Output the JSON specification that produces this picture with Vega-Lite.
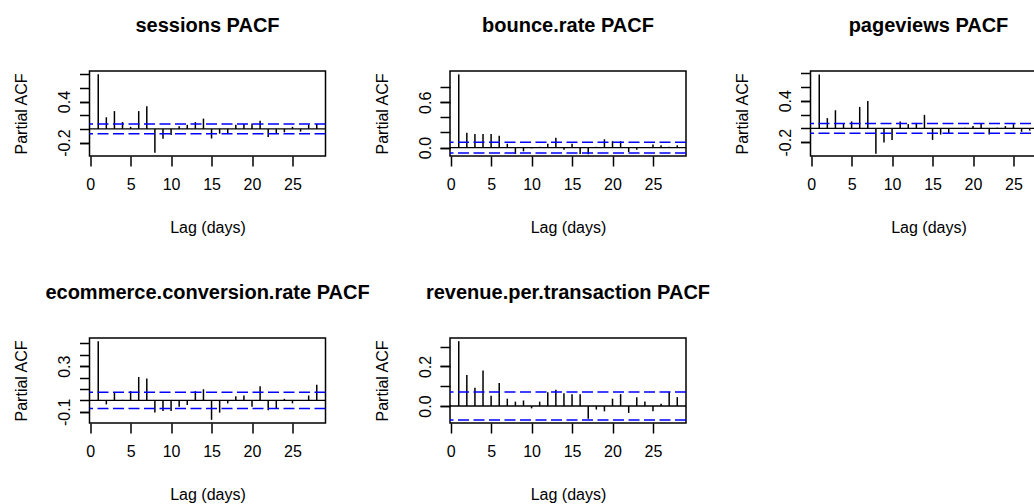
{
  "$schema": "https://vega.github.io/schema/vega-lite/v6.json",
  "background": "white",
  "autosize": {"type": "pad"},
  "padding": {"left": 12.5, "top": 15, "right": 0, "bottom": 0},
  "datasets": {
    "pacf": [
      {"series": "sessions", "lag": 1, "pacf": 0.80}, {"series": "sessions", "lag": 2, "pacf": 0.17}, {"series": "sessions", "lag": 3, "pacf": 0.26}, {"series": "sessions", "lag": 4, "pacf": 0.10},
      {"series": "sessions", "lag": 5, "pacf": 0.03}, {"series": "sessions", "lag": 6, "pacf": 0.26}, {"series": "sessions", "lag": 7, "pacf": 0.33}, {"series": "sessions", "lag": 8, "pacf": -0.35},
      {"series": "sessions", "lag": 9, "pacf": -0.145}, {"series": "sessions", "lag": 10, "pacf": -0.09}, {"series": "sessions", "lag": 11, "pacf": 0.04}, {"series": "sessions", "lag": 12, "pacf": 0.06},
      {"series": "sessions", "lag": 13, "pacf": 0.10}, {"series": "sessions", "lag": 14, "pacf": 0.15}, {"series": "sessions", "lag": 15, "pacf": -0.14}, {"series": "sessions", "lag": 16, "pacf": -0.07},
      {"series": "sessions", "lag": 17, "pacf": -0.06}, {"series": "sessions", "lag": 18, "pacf": 0.06}, {"series": "sessions", "lag": 19, "pacf": 0.07}, {"series": "sessions", "lag": 20, "pacf": 0.08},
      {"series": "sessions", "lag": 21, "pacf": 0.12}, {"series": "sessions", "lag": 22, "pacf": -0.12}, {"series": "sessions", "lag": 23, "pacf": -0.06}, {"series": "sessions", "lag": 24, "pacf": -0.05},
      {"series": "sessions", "lag": 25, "pacf": 0.03}, {"series": "sessions", "lag": 26, "pacf": -0.04}, {"series": "sessions", "lag": 27, "pacf": 0.06}, {"series": "sessions", "lag": 28, "pacf": 0.07},

      {"series": "bounce", "lag": 1, "pacf": 0.97}, {"series": "bounce", "lag": 2, "pacf": 0.196}, {"series": "bounce", "lag": 3, "pacf": 0.18}, {"series": "bounce", "lag": 4, "pacf": 0.18},
      {"series": "bounce", "lag": 5, "pacf": 0.18}, {"series": "bounce", "lag": 6, "pacf": 0.155}, {"series": "bounce", "lag": 7, "pacf": 0.05}, {"series": "bounce", "lag": 8, "pacf": -0.085},
      {"series": "bounce", "lag": 9, "pacf": -0.05}, {"series": "bounce", "lag": 10, "pacf": -0.01}, {"series": "bounce", "lag": 11, "pacf": 0.01}, {"series": "bounce", "lag": 12, "pacf": 0.05},
      {"series": "bounce", "lag": 13, "pacf": 0.13}, {"series": "bounce", "lag": 14, "pacf": -0.03}, {"series": "bounce", "lag": 15, "pacf": 0.05}, {"series": "bounce", "lag": 16, "pacf": -0.085},
      {"series": "bounce", "lag": 17, "pacf": -0.09}, {"series": "bounce", "lag": 18, "pacf": 0.01}, {"series": "bounce", "lag": 19, "pacf": 0.11}, {"series": "bounce", "lag": 20, "pacf": 0.085},
      {"series": "bounce", "lag": 21, "pacf": 0.085}, {"series": "bounce", "lag": 22, "pacf": -0.06}, {"series": "bounce", "lag": 23, "pacf": -0.03}, {"series": "bounce", "lag": 24, "pacf": 0.004},
      {"series": "bounce", "lag": 25, "pacf": 0.04}, {"series": "bounce", "lag": 26, "pacf": 0.03}, {"series": "bounce", "lag": 27, "pacf": 0.01}, {"series": "bounce", "lag": 28, "pacf": 0.03},

      {"series": "pageviews", "lag": 1, "pacf": 0.78}, {"series": "pageviews", "lag": 2, "pacf": 0.148}, {"series": "pageviews", "lag": 3, "pacf": 0.262}, {"series": "pageviews", "lag": 4, "pacf": 0.07},
      {"series": "pageviews", "lag": 5, "pacf": 0.10}, {"series": "pageviews", "lag": 6, "pacf": 0.31}, {"series": "pageviews", "lag": 7, "pacf": 0.395}, {"series": "pageviews", "lag": 8, "pacf": -0.367},
      {"series": "pageviews", "lag": 9, "pacf": -0.205}, {"series": "pageviews", "lag": 10, "pacf": -0.167}, {"series": "pageviews", "lag": 11, "pacf": 0.10}, {"series": "pageviews", "lag": 12, "pacf": 0.062},
      {"series": "pageviews", "lag": 13, "pacf": 0.08}, {"series": "pageviews", "lag": 14, "pacf": 0.195}, {"series": "pageviews", "lag": 15, "pacf": -0.167}, {"series": "pageviews", "lag": 16, "pacf": -0.09},
      {"series": "pageviews", "lag": 17, "pacf": -0.08}, {"series": "pageviews", "lag": 18, "pacf": 0.004}, {"series": "pageviews", "lag": 19, "pacf": 0.01}, {"series": "pageviews", "lag": 20, "pacf": 0.033},
      {"series": "pageviews", "lag": 21, "pacf": 0.062}, {"series": "pageviews", "lag": 22, "pacf": -0.09}, {"series": "pageviews", "lag": 23, "pacf": 0.01}, {"series": "pageviews", "lag": 24, "pacf": 0.033},
      {"series": "pageviews", "lag": 25, "pacf": 0.062}, {"series": "pageviews", "lag": 26, "pacf": -0.05}, {"series": "pageviews", "lag": 27, "pacf": -0.033}, {"series": "pageviews", "lag": 28, "pacf": 0.05},

      {"series": "ecommerce", "lag": 1, "pacf": 0.519}, {"series": "ecommerce", "lag": 2, "pacf": -0.035}, {"series": "ecommerce", "lag": 3, "pacf": 0.066}, {"series": "ecommerce", "lag": 4, "pacf": 0.005},
      {"series": "ecommerce", "lag": 5, "pacf": 0.081}, {"series": "ecommerce", "lag": 6, "pacf": 0.205}, {"series": "ecommerce", "lag": 7, "pacf": 0.193}, {"series": "ecommerce", "lag": 8, "pacf": -0.107},
      {"series": "ecommerce", "lag": 9, "pacf": -0.092}, {"series": "ecommerce", "lag": 10, "pacf": -0.092}, {"series": "ecommerce", "lag": 11, "pacf": -0.055}, {"series": "ecommerce", "lag": 12, "pacf": -0.04},
      {"series": "ecommerce", "lag": 13, "pacf": 0.081}, {"series": "ecommerce", "lag": 14, "pacf": 0.098}, {"series": "ecommerce", "lag": 15, "pacf": -0.17}, {"series": "ecommerce", "lag": 16, "pacf": -0.107},
      {"series": "ecommerce", "lag": 17, "pacf": -0.026}, {"series": "ecommerce", "lag": 18, "pacf": 0.037}, {"series": "ecommerce", "lag": 19, "pacf": 0.043}, {"series": "ecommerce", "lag": 20, "pacf": -0.055},
      {"series": "ecommerce", "lag": 21, "pacf": 0.124}, {"series": "ecommerce", "lag": 22, "pacf": -0.086}, {"series": "ecommerce", "lag": 23, "pacf": -0.07}, {"series": "ecommerce", "lag": 24, "pacf": 0.014},
      {"series": "ecommerce", "lag": 25, "pacf": -0.026}, {"series": "ecommerce", "lag": 26, "pacf": 0.003}, {"series": "ecommerce", "lag": 27, "pacf": 0.043}, {"series": "ecommerce", "lag": 28, "pacf": 0.138},

      {"series": "revenue", "lag": 1, "pacf": 0.328}, {"series": "revenue", "lag": 2, "pacf": 0.157}, {"series": "revenue", "lag": 3, "pacf": 0.092}, {"series": "revenue", "lag": 4, "pacf": 0.179},
      {"series": "revenue", "lag": 5, "pacf": 0.052}, {"series": "revenue", "lag": 6, "pacf": 0.116}, {"series": "revenue", "lag": 7, "pacf": 0.037}, {"series": "revenue", "lag": 8, "pacf": 0.022},
      {"series": "revenue", "lag": 9, "pacf": 0.028}, {"series": "revenue", "lag": 10, "pacf": -0.012}, {"series": "revenue", "lag": 11, "pacf": 0.022}, {"series": "revenue", "lag": 12, "pacf": 0.069},
      {"series": "revenue", "lag": 13, "pacf": 0.082}, {"series": "revenue", "lag": 14, "pacf": 0.065}, {"series": "revenue", "lag": 15, "pacf": 0.06}, {"series": "revenue", "lag": 16, "pacf": 0.06},
      {"series": "revenue", "lag": 17, "pacf": -0.065}, {"series": "revenue", "lag": 18, "pacf": -0.018}, {"series": "revenue", "lag": 19, "pacf": -0.027}, {"series": "revenue", "lag": 20, "pacf": 0.037},
      {"series": "revenue", "lag": 21, "pacf": 0.06}, {"series": "revenue", "lag": 22, "pacf": -0.035}, {"series": "revenue", "lag": 23, "pacf": 0.044}, {"series": "revenue", "lag": 24, "pacf": 0.023},
      {"series": "revenue", "lag": 25, "pacf": -0.027}, {"series": "revenue", "lag": 26, "pacf": 0.012}, {"series": "revenue", "lag": 27, "pacf": 0.072}, {"series": "revenue", "lag": 28, "pacf": 0.045}
    ],
    "ci": [
      {"series": "sessions", "bound": 0.071}, {"series": "sessions", "bound": -0.071},
      {"series": "bounce", "bound": 0.071}, {"series": "bounce", "bound": -0.071},
      {"series": "pageviews", "bound": 0.071}, {"series": "pageviews", "bound": -0.071},
      {"series": "ecommerce", "bound": 0.071}, {"series": "ecommerce", "bound": -0.071},
      {"series": "revenue", "bound": 0.071}, {"series": "revenue", "bound": -0.071}
    ]
  },
  "columns": 3,
  "spacing": {"row": 182, "column": 124.5},
  "bounds": "flush",
  "concat": [
    {
      "width": 236, "height": 85,
      "title": {"text": "sessions PACF"},
      "resolve": {"axis": {"y": "independent"}},
      "layer": [
        {"data": {"name": "pacf"}, "transform": [{"filter": "datum.series === 'sessions'"}],
         "mark": {"type": "rule", "color": "black", "strokeWidth": 1.5},
         "encoding": {
           "x": {"field": "lag", "type": "quantitative", "title": "Lag (days)", "scale": {"domain": [-0.08, 29.08], "nice": false, "zero": false}, "axis": {"values": [0, 5, 10, 15, 20, 25], "titleX": 118, "titleY": 71}},
           "y": {"field": "pacf", "type": "quantitative", "title": "Partial ACF", "scale": {"domain": [-0.396, 0.846], "nice": false, "zero": false}, "axis": {"values": [-0.2, 0, 0.2, 0.4, 0.6, 0.8], "labels": false, "orient": "left", "titleX": -68, "titleY": 42.5}},
           "y2": {"datum": 0}
         }},
        {"data": {"name": "ci"}, "transform": [{"filter": "datum.series === 'sessions' && datum.bound > 0"}],
         "mark": {"type": "rule", "color": "black", "strokeWidth": 1.3},
         "encoding": {"y": {"datum": 0, "type": "quantitative", "axis": null}}},
        {"data": {"name": "ci"}, "transform": [{"filter": "datum.series === 'sessions'"}],
         "mark": {"type": "rule", "color": "#0000FF", "strokeWidth": 1.5, "strokeDash": [11, 4.5]},
         "encoding": {"y": {"field": "bound", "type": "quantitative", "axis": {"values": [-0.2, 0.4], "orient": "left", "title": null, "format": ".1f", "labelExpr": "replace(datum.label, '\u2212', '-')"}}}}
      ]
    },
    {
      "width": 236, "height": 85,
      "title": {"text": "bounce.rate PACF"},
      "resolve": {"axis": {"y": "independent"}},
      "layer": [
        {"data": {"name": "pacf"}, "transform": [{"filter": "datum.series === 'bounce'"}],
         "mark": {"type": "rule", "color": "black", "strokeWidth": 1.5},
         "encoding": {
           "x": {"field": "lag", "type": "quantitative", "title": "Lag (days)", "scale": {"domain": [-0.08, 29.08], "nice": false, "zero": false}, "axis": {"values": [0, 5, 10, 15, 20, 25], "titleX": 118, "titleY": 71}},
           "y": {"field": "pacf", "type": "quantitative", "title": "Partial ACF", "scale": {"domain": [-0.112, 1.015], "nice": false, "zero": false}, "axis": {"values": [0, 0.2, 0.4, 0.6, 0.8], "labels": false, "orient": "left", "titleX": -68, "titleY": 42.5}},
           "y2": {"datum": 0}
         }},
        {"data": {"name": "ci"}, "transform": [{"filter": "datum.series === 'bounce' && datum.bound > 0"}],
         "mark": {"type": "rule", "color": "black", "strokeWidth": 1.3},
         "encoding": {"y": {"datum": 0, "type": "quantitative", "axis": null}}},
        {"data": {"name": "ci"}, "transform": [{"filter": "datum.series === 'bounce'"}],
         "mark": {"type": "rule", "color": "#0000FF", "strokeWidth": 1.5, "strokeDash": [11, 4.5]},
         "encoding": {"y": {"field": "bound", "type": "quantitative", "axis": {"values": [0, 0.6], "orient": "left", "title": null, "format": ".1f", "labelExpr": "replace(datum.label, '\u2212', '-')"}}}}
      ]
    },
    {
      "width": 236, "height": 85,
      "title": {"text": "pageviews PACF"},
      "resolve": {"axis": {"y": "independent"}},
      "layer": [
        {"data": {"name": "pacf"}, "transform": [{"filter": "datum.series === 'pageviews'"}],
         "mark": {"type": "rule", "color": "black", "strokeWidth": 1.5},
         "encoding": {
           "x": {"field": "lag", "type": "quantitative", "title": "Lag (days)", "scale": {"domain": [-0.08, 29.08], "nice": false, "zero": false}, "axis": {"values": [0, 5, 10, 15, 20, 25], "titleX": 118, "titleY": 71}},
           "y": {"field": "pacf", "type": "quantitative", "title": "Partial ACF", "scale": {"domain": [-0.40, 0.83], "nice": false, "zero": false}, "axis": {"values": [-0.2, 0, 0.2, 0.4, 0.6, 0.8], "labels": false, "orient": "left", "titleX": -68, "titleY": 42.5}},
           "y2": {"datum": 0}
         }},
        {"data": {"name": "ci"}, "transform": [{"filter": "datum.series === 'pageviews' && datum.bound > 0"}],
         "mark": {"type": "rule", "color": "black", "strokeWidth": 1.3},
         "encoding": {"y": {"datum": 0, "type": "quantitative", "axis": null}}},
        {"data": {"name": "ci"}, "transform": [{"filter": "datum.series === 'pageviews'"}],
         "mark": {"type": "rule", "color": "#0000FF", "strokeWidth": 1.5, "strokeDash": [11, 4.5]},
         "encoding": {"y": {"field": "bound", "type": "quantitative", "axis": {"values": [-0.2, 0.4], "orient": "left", "title": null, "format": ".1f", "labelExpr": "replace(datum.label, '\u2212', '-')"}}}}
      ]
    },
    {
      "width": 236, "height": 85,
      "title": {"text": "ecommerce.conversion.rate PACF"},
      "resolve": {"axis": {"y": "independent"}},
      "layer": [
        {"data": {"name": "pacf"}, "transform": [{"filter": "datum.series === 'ecommerce'"}],
         "mark": {"type": "rule", "color": "black", "strokeWidth": 1.5},
         "encoding": {
           "x": {"field": "lag", "type": "quantitative", "title": "Lag (days)", "scale": {"domain": [-0.08, 29.08], "nice": false, "zero": false}, "axis": {"values": [0, 5, 10, 15, 20, 25], "titleX": 118, "titleY": 71}},
           "y": {"field": "pacf", "type": "quantitative", "title": "Partial ACF", "scale": {"domain": [-0.198, 0.547], "nice": false, "zero": false}, "axis": {"values": [-0.1, 0, 0.1, 0.2, 0.3, 0.4, 0.5], "labels": false, "orient": "left", "titleX": -68, "titleY": 42.5}},
           "y2": {"datum": 0}
         }},
        {"data": {"name": "ci"}, "transform": [{"filter": "datum.series === 'ecommerce' && datum.bound > 0"}],
         "mark": {"type": "rule", "color": "black", "strokeWidth": 1.3},
         "encoding": {"y": {"datum": 0, "type": "quantitative", "axis": null}}},
        {"data": {"name": "ci"}, "transform": [{"filter": "datum.series === 'ecommerce'"}],
         "mark": {"type": "rule", "color": "#0000FF", "strokeWidth": 1.5, "strokeDash": [11, 4.5]},
         "encoding": {"y": {"field": "bound", "type": "quantitative", "axis": {"values": [-0.1, 0.3], "orient": "left", "title": null, "format": ".1f", "labelExpr": "replace(datum.label, '\u2212', '-')"}}}}
      ]
    },
    {
      "width": 236, "height": 85,
      "title": {"text": "revenue.per.transaction PACF"},
      "resolve": {"axis": {"y": "independent"}},
      "layer": [
        {"data": {"name": "pacf"}, "transform": [{"filter": "datum.series === 'revenue'"}],
         "mark": {"type": "rule", "color": "black", "strokeWidth": 1.5},
         "encoding": {
           "x": {"field": "lag", "type": "quantitative", "title": "Lag (days)", "scale": {"domain": [-0.08, 29.08], "nice": false, "zero": false}, "axis": {"values": [0, 5, 10, 15, 20, 25], "titleX": 118, "titleY": 71}},
           "y": {"field": "pacf", "type": "quantitative", "title": "Partial ACF", "scale": {"domain": [-0.086, 0.344], "nice": false, "zero": false}, "axis": {"values": [0, 0.1, 0.2, 0.3], "labels": false, "orient": "left", "titleX": -68, "titleY": 42.5}},
           "y2": {"datum": 0}
         }},
        {"data": {"name": "ci"}, "transform": [{"filter": "datum.series === 'revenue' && datum.bound > 0"}],
         "mark": {"type": "rule", "color": "black", "strokeWidth": 1.3},
         "encoding": {"y": {"datum": 0, "type": "quantitative", "axis": null}}},
        {"data": {"name": "ci"}, "transform": [{"filter": "datum.series === 'revenue'"}],
         "mark": {"type": "rule", "color": "#0000FF", "strokeWidth": 1.5, "strokeDash": [11, 4.5]},
         "encoding": {"y": {"field": "bound", "type": "quantitative", "axis": {"values": [0, 0.2], "orient": "left", "title": null, "format": ".1f", "labelExpr": "replace(datum.label, '\u2212', '-')"}}}}
      ]
    }
  ],
  "config": {
    "view": {"stroke": "black", "strokeWidth": 1.5},
    "font": "Liberation Sans",
    "axis": {
      "grid": false, "domain": false,
      "tickColor": "black", "tickWidth": 1.5, "tickSize": 10,
      "labelFont": "Liberation Sans", "labelFontSize": 16, "labelColor": "black",
      "labelFlush": false,
      "titleFont": "Liberation Sans", "titleFontSize": 16, "titleFontWeight": "normal", "titleColor": "black",
      "titleBaseline": "middle", "titleAlign": "center"
    },
    "axisX": {"labelPadding": 10, "labelBaseline": "top"},
    "axisY": {"labelAngle": -90, "labelAlign": "center", "labelBaseline": "bottom", "labelPadding": 7, "titleAngle": -90},
    "title": {"font": "Liberation Sans", "fontSize": 20, "fontWeight": "bold", "color": "black", "anchor": "middle", "frame": "group", "baseline": "alphabetic", "offset": 35}
  }
}
